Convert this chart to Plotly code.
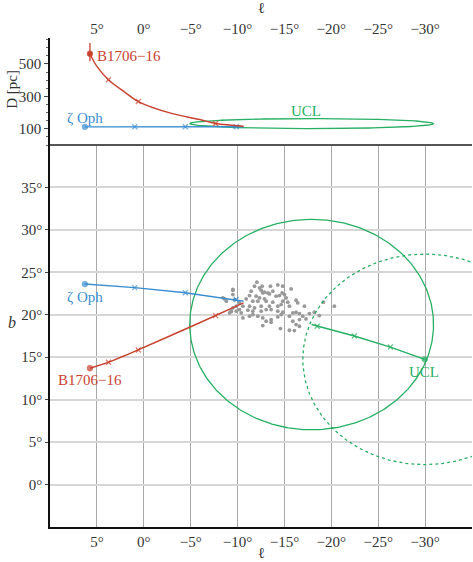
import numpy as np
import plotly.graph_objects as go

# ---------------- data ----------------
l_ticks = [5, 0, -5, -10, -15, -20, -25, -30]
l_tick_labels = ["5°", "0°", "−5°", "−10°", "−15°", "−20°", "−25°", "−30°"]
b_ticks = [0, 5, 10, 15, 20, 25, 30, 35]
b_tick_labels = ["0°", "5°", "10°", "15°", "20°", "25°", "30°", "35°"]
D_ticks = [100, 300, 500]

# zeta Oph track (first = present position)
zoph_l = [6.28, 0.96, -4.43, -9.86, -10.64]
zoph_b = [23.62, 23.2, 22.6, 21.8, 21.6]
zoph_D = [112, 113, 113, 113, 113]

# B1706-16 track (first = present position)
psr_l = [5.74, 5.0, 3.77, 2.0, 0.58, -2.77, -5.96, -7.66, -10.64]
psr_b = [13.7, 13.95, 14.4, 15.2, 15.86, 17.5, 19.06, 19.9, 21.4]
psr_D = [563, 485, 403, 325, 268, 198, 157, 133, 116]
psr_D_err_plus = [66]
psr_D_err_minus = [47]

# UCL centre track (first = present position)
ucl_l = [-29.96, -26.3, -22.45, -18.5, -17.9]
ucl_b = [14.75, 16.2, 17.5, 18.65, 18.85]
ucl_radius_l = 13.0
ucl_radius_b = 12.4
ucl_D_centre = 132
ucl_D_halfwidth = 31

# simulated birth positions (grey points)
cluster_l = [-12.06, -14.29, -13.51, -12.62, -9.5, -12.52, -12.87, -13.23, -13.40, -12.69,
             -11.45, -15.71, -14.75, -15.0, -14.47, -15.18, -14.11, -11.98, -12.34, -12.87,
             -11.28, -10.92, -11.63, -12.16, -13.05, -13.76, -14.82, -15.35, -16.24, -16.42,
             -14.65, -15.53, -14.29, -13.40, -12.52, -11.81, -11.28, -10.57, -9.86, -9.5,
             -9.33, -10.21, -11.10, -11.63, -12.52, -13.05, -13.58, -14.29, -14.82, -15.89,
             -16.24, -16.6, -17.13, -16.95, -17.66, -18.19, -18.72, -19.15, -20.32, -12.16,
             -12.69, -13.58, -13.05, -14.29, -14.65, -15.53, -15.89, -16.6, -17.3, -16.24,
             -16.6, -15.53, -16.06, -14.57, -12.69, -13.58, -8.62, -9.5, -9.68, -10.21,
             -11.81, -12.34, -13.76, -14.82, -10.39, -10.57, -9.86, -9.15, -11.28, -11.63,
             -8.44, -8.8, -9.33, -9.5]
cluster_b = [23.84, 23.52, 23.37, 23.37, 22.89, 22.89, 22.66, 22.58, 22.46, 22.58,
             22.78, 23.05, 22.58, 22.38, 22.26, 21.99, 22.19, 22.19, 21.99, 21.87,
             22.26, 21.87, 21.6, 21.6, 21.6, 21.48, 21.6, 21.48, 21.71, 21.4,
             21.2, 21.01, 21.01, 21.01, 21.01, 20.81, 21.01, 21.01, 21.01, 20.81,
             20.42, 20.61, 20.54, 20.42, 20.42, 20.61, 20.61, 20.42, 20.3, 20.22,
             20.3, 20.14, 21.01, 19.83, 20.14, 20.3, 19.91, 21.48, 21.01, 19.83,
             19.63, 19.43, 19.24, 19.75, 20.02, 19.83, 19.24, 19.43, 19.51, 18.84,
             18.65, 18.18, 18.14, 18.37, 18.73, 19.12, 21.87, 22.38, 21.79, 21.4,
             23.37, 23.17, 22.78, 23.37, 20.22, 19.63, 20.42, 20.22, 19.83, 20.02,
             22.0, 21.6, 20.4, 23.0]

# ---------------- styles ----------------
BLUE = "#3b8ed0"
RED = "#c9412f"
GREEN = "#27b063"
GREY = "#999999"
FONT = "Liberation Serif"
TXT = "#333333"

zoph_sym = ["circle", "x-thin", "x-thin", "x-thin", "circle"]
zoph_size = [5, 5, 5, 5, 0]
psr_sym = ["circle", "circle", "x-thin", "circle", "x-thin", "circle", "circle", "x-thin", "circle"]
psr_size = [5, 0, 5, 0, 5, 0, 0, 5, 0]
ucl_sym = ["circle", "x-thin", "x-thin", "x-thin", "circle"]
ucl_size = [5, 5, 5, 5, 0]

theta = np.linspace(0, 2 * np.pi, 361)

fig = go.Figure()

# ---------------- bottom panel ----------------
fig.add_trace(go.Scatter(x=cluster_l, y=cluster_b, mode="markers",
                         marker=dict(color=GREY, size=3.8), xaxis="x", yaxis="y",
                         hoverinfo="skip"))

# UCL circles: past (solid) and present (dotted)
fig.add_trace(go.Scatter(x=ucl_l[-1] + ucl_radius_l * np.cos(theta),
                         y=ucl_b[-1] + ucl_radius_b * np.sin(theta),
                         mode="lines", line=dict(color=GREEN, width=1.3),
                         xaxis="x", yaxis="y"))
fig.add_trace(go.Scatter(x=ucl_l[0] + ucl_radius_l * np.cos(theta),
                         y=ucl_b[0] + ucl_radius_b * np.sin(theta),
                         mode="lines", line=dict(color=GREEN, width=1.3, dash="dot"),
                         xaxis="x", yaxis="y"))


def track(x, y, color, sym, size, xa, ya):
    return go.Scatter(x=x, y=y, mode="lines+markers", line=dict(color=color, width=1.4),
                      marker=dict(symbol=sym, size=size, color=color,
                                  line=dict(color=color, width=1.3)),
                      xaxis=xa, yaxis=ya)


fig.add_trace(track(ucl_l, ucl_b, GREEN, ucl_sym, ucl_size, "x", "y"))
fig.add_trace(track(zoph_l, zoph_b, BLUE, zoph_sym, zoph_size, "x", "y"))
fig.add_trace(track(psr_l, psr_b, RED, psr_sym, psr_size, "x", "y"))

# ---------------- top panel ----------------
fig.add_trace(go.Scatter(x=ucl_l[-1] + ucl_radius_l * np.cos(theta),
                         y=ucl_D_centre + ucl_D_halfwidth * np.sin(theta),
                         mode="lines", line=dict(color=GREEN, width=1.3),
                         xaxis="x2", yaxis="y2"))
fig.add_trace(track(zoph_l, zoph_D, BLUE, zoph_sym, zoph_size, "x2", "y2"))
t = track(psr_l, psr_D, RED, psr_sym, psr_size, "x2", "y2")
t.line.shape = "spline"
fig.add_trace(t)
fig.add_trace(go.Scatter(x=psr_l[:1], y=psr_D[:1], mode="markers",
                         marker=dict(color=RED, size=5),
                         error_y=dict(type="data", array=psr_D_err_plus,
                                      arrayminus=psr_D_err_minus, color=RED,
                                      thickness=1.3, width=0),
                         xaxis="x2", yaxis="y2"))

tickfont = dict(family=FONT, size=15, color=TXT)
split = 382 / 489

fig.update_layout(
    width=473, height=562,
    margin=dict(l=50, r=1, t=38, b=35),
    paper_bgcolor="white", plot_bgcolor="white",
    showlegend=False,
    font=dict(family=FONT, size=15, color=TXT),
    xaxis=dict(domain=[0, 1], range=[10, -35], anchor="y", automargin=False,
               tickvals=l_ticks, ticktext=l_tick_labels, tickfont=tickfont,
               showgrid=True, gridcolor="#a8a8a8", gridwidth=1,
               showline=True, linecolor="#111", linewidth=1.5,
               ticks="", zeroline=False),
    yaxis=dict(domain=[0, split], range=[-5, 40], anchor="x", automargin=False,
               tickvals=b_ticks, ticktext=b_tick_labels, tickfont=tickfont,
               showgrid=True, gridcolor="#d6d6d6", gridwidth=2,
               showline=True, linecolor="#111", linewidth=1.5,
               ticks="outside", ticklen=3, tickcolor="#444", zeroline=False),
    xaxis2=dict(domain=[0, 1], range=[10, -35], anchor="y2", side="top", automargin=False,
                tickvals=l_ticks, ticktext=l_tick_labels, tickfont=tickfont,
                showgrid=False, showline=False, ticks="", zeroline=False),
    yaxis2=dict(domain=[split, 1], range=[0, 660], anchor="x2", automargin=False,
                tickvals=D_ticks, tickfont=tickfont,
                showgrid=False, showline=True, linecolor="#111", linewidth=1.5,
                ticks="outside", ticklen=4, tickcolor="#444", zeroline=False,
                minor=dict(ticks="outside", dtick=50, ticklen=2, tickcolor="#666")),
    shapes=[dict(type="line", xref="paper", yref="paper", x0=0, x1=1,
                 y0=split, y1=split, line=dict(color="#555", width=2))],
    annotations=[
        dict(text="ℓ", xref="paper", yref="paper", x=0.5, y=-0.053, yanchor="middle",
             xanchor="center", showarrow=False, font=dict(family=FONT, size=15, color=TXT)),
        dict(text="ℓ", xref="paper", yref="paper", x=0.5, y=1.061, yanchor="middle",
             xanchor="center", showarrow=False, font=dict(family=FONT, size=15, color=TXT)),
        dict(text="<i>b</i>", xref="paper", yref="paper", x=-0.09, y=0.419,
             xanchor="center", yanchor="middle",
             showarrow=False, font=dict(family=FONT, size=16, color=TXT)),
        dict(text="D [pc]", xref="paper", yref="paper", x=-0.09, y=0.894,
             xanchor="center", yanchor="middle",
             showarrow=False, textangle=-90, font=dict(family=FONT, size=15, color=TXT)),
        # bottom panel labels
        dict(text="ζ Oph", x=6.28, y=22.15, xref="x", yref="y", showarrow=False,
             font=dict(family=FONT, size=15, color=BLUE)),
        dict(text="B1706−16", x=5.74, y=12.3, xref="x", yref="y", showarrow=False,
             font=dict(family=FONT, size=15, color=RED)),
        dict(text="UCL", x=-29.9, y=13.3, xref="x", yref="y", showarrow=False,
             font=dict(family=FONT, size=15, color=GREEN)),
        # top panel labels
        dict(text="ζ Oph", x=6.28, y=168, xref="x2", yref="y2", showarrow=False,
             font=dict(family=FONT, size=15, color=BLUE)),
        dict(text="B1706−16", x=5.2, y=551, xref="x2", yref="y2", showarrow=False,
             xanchor="left", font=dict(family=FONT, size=15, color=RED)),
        dict(text="UCL", x=-17.3, y=208, xref="x2", yref="y2", showarrow=False,
             font=dict(family=FONT, size=15, color=GREEN)),
    ],
)

fig.write_html("out.html", config={"displayModeBar": False},
               post_script="document.body.style.margin='0px';")
